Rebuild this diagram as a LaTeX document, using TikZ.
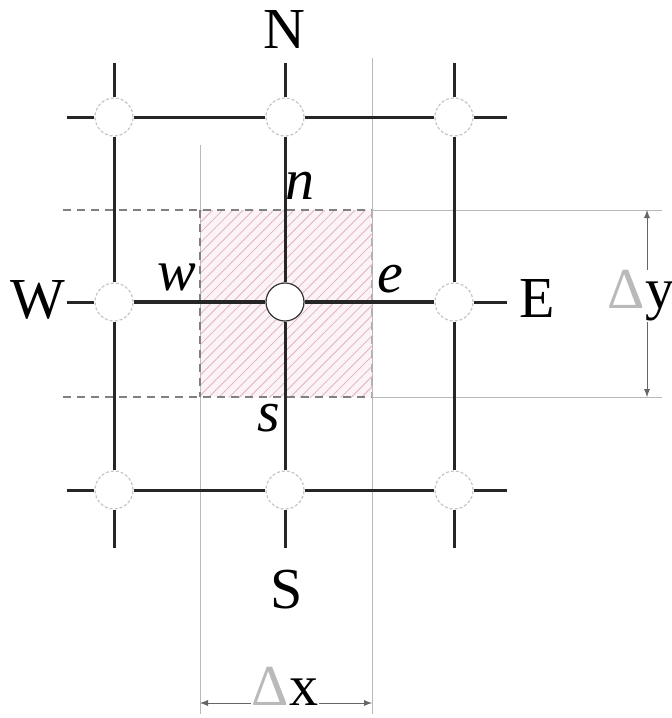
\documentclass[tikz,border=0pt]{standalone}
\usepackage{fontspec}
\setmainfont{Liberation Serif}
\usetikzlibrary{patterns.meta}
\definecolor{hatchpink}{RGB}{226,178,196}
\definecolor{guidegray}{RGB}{185,185,185}

\begin{document}
\begin{tikzpicture}[x=0.5pt,y=-0.5pt,>=latex,
  gridpt/.style={circle,minimum size=19pt,inner sep=0pt,fill=white,draw=gray!45,line width=0.6pt,dash pattern=on 1.5pt off 1pt},
  grid/.style={line width=1.5pt,black!85},
  guide/.style={line width=0.4pt,guidegray},
  cvbox/.style={line width=0.6pt,gray,dash pattern=on 4pt off 3pt},
  big/.style={font=\fontsize{29}{32}\selectfont,inner sep=1pt},
  face/.style={font=\itshape\fontsize{29}{32}\selectfont,inner sep=1pt}]
  \useasboundingbox (0,0) rectangle (672,718);
  % control volume
  \path[fill=hatchpink!15] (200,210) rectangle (372,397);
  \path[pattern={Lines[angle=45,distance=3.6pt,line width=0.4pt]},pattern color=hatchpink] (200,210) rectangle (372,397);
  \draw[guide] (200,145) -- (200,714);
  \draw[guide] (372,58) -- (372,714);
  \draw[guide] (372,210) -- (662,210);
  \draw[guide] (372,397) -- (662,397);
  \draw[cvbox] (63,210) -- (372,210);
  \draw[cvbox] (63,397) -- (372,397);
  \draw[cvbox] (200,210) -- (200,397);
  \draw[cvbox,gray!60] (372,210) -- (372,397);
  % grid points
  \node[gridpt] (NW) at (114,117) {};
  \node[gridpt] (N) at (285,117) {};
  \node[gridpt] (NE) at (454,117) {};
  \node[gridpt] (W) at (114,302) {};
  \node[gridpt,draw=black!80,solid] (P) at (285,302) {};
  \node[gridpt] (E) at (454,302) {};
  \node[gridpt] (SW) at (114,490) {};
  \node[gridpt] (S) at (285,490) {};
  \node[gridpt] (SE) at (454,490) {};
  % free ends of the grid lines
  \coordinate (NL) at (67,117);  \coordinate (NR) at (507,117);
  \coordinate (CL) at (67,302);  \coordinate (CR) at (507,302);
  \coordinate (SL) at (67,490);  \coordinate (SR) at (507,490);
  \coordinate (WT) at (114,63);  \coordinate (WB) at (114,548);
  \coordinate (PT) at (285,63);  \coordinate (PB) at (285,548);
  \coordinate (ET) at (454,63);  \coordinate (EB) at (454,548);
  \draw[grid] (NL) -- (NW) -- (N) -- (NE) -- (NR);
  \draw[grid] (SL) -- (SW) -- (S) -- (SE) -- (SR);
  \draw[grid] (CL) -- (W);
  \draw[grid,line width=2pt] (W) -- (P) -- (E);
  \draw[grid] (E) -- (CR);
  \draw[grid] (WT) -- (NW) -- (W) -- (SW) -- (WB);
  \draw[grid] (PT) -- (N) -- (P) -- (S) -- (PB);
  \draw[grid] (ET) -- (NE) -- (E) -- (SE) -- (EB);
  % labels
  \node[big] (tN) at (284,30) {N};
  \node[big] (tS) at (287,590) {S};
  \node[big] (tW) at (38,300) {W};
  \node[big] (tE) at (537,299) {E};
  \node[face] (fn) at (300,186) {n};
  \node[face] (fw) at (177,277) {w};
  \node[face] (fe) at (390,279) {e};
  \node[face] (fs) at (269,418) {s};
  % widths of the control volume
  \coordinate (xl) at (200,703);  \coordinate (xr) at (372,703);
  \coordinate (yt) at (647,210);  \coordinate (yb) at (647,397);
  \draw[guide,black!60,<->] (xl) -- (xr);
  \draw[guide,black!60,<->] (yt) -- (yb);
  \node[big,fill=white,inner sep=0.5pt] (dx) at (285,686) {\textcolor{gray!55}{Δ}x};
  \node[big,fill=white,inner sep=0.5pt] (dy) at (641,296) {\textcolor{gray!55}{Δ}y};
\end{tikzpicture}
\end{document}
